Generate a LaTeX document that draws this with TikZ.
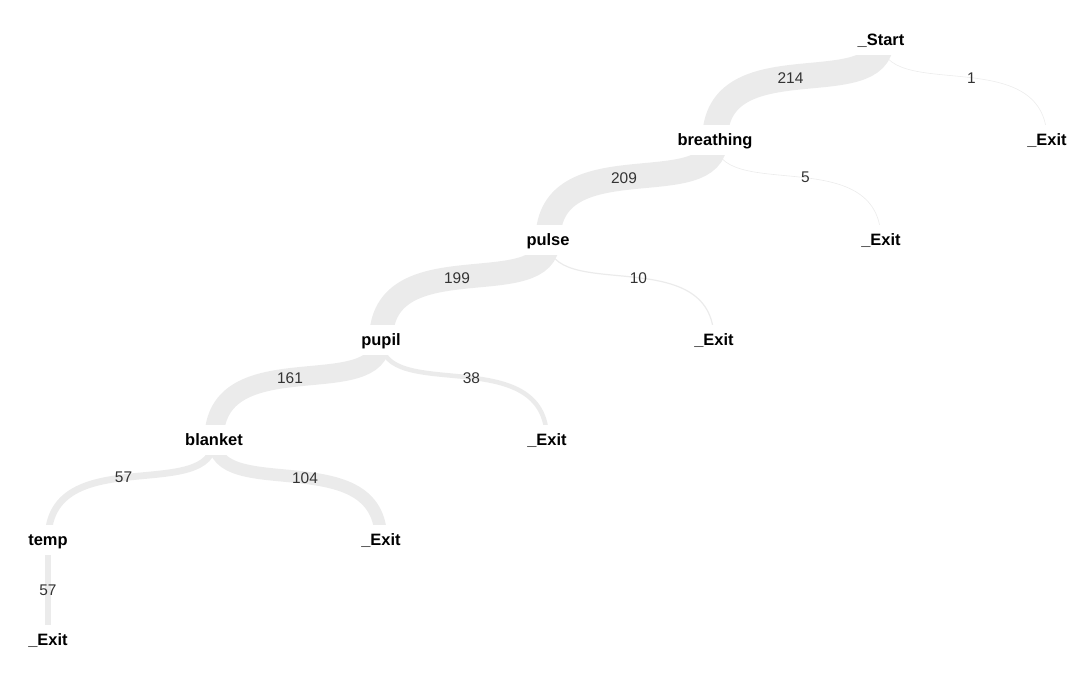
\documentclass[tikz,border=0pt]{standalone}
\usepackage{fontspec}
\setmainfont{Liberation Sans}
\usetikzlibrary{backgrounds}
\definecolor{band}{RGB}{235,235,235}

\begin{document}
\begin{tikzpicture}[x=0.025cm, y=-0.025cm,
  state/.style = {fill=white, inner xsep=1pt, inner ysep=0pt, minimum height=21pt,
    text height=10pt, text depth=2.2pt, font=\fontsize{11.7}{14}\selectfont\bfseries},
  flow/.style = {draw=band, line cap=butt, line width={max(#1*0.085pt,0.4pt)},
    out=-90, in=90, out distance=1.625cm, in distance=2.5cm},
  count/.style = {pos=0.53, text=black!80, font=\fontsize{11}{13}\selectfont}]
\useasboundingbox (0,0) rectangle (1080,689);
\node[state] (start) at (881,40) {\_Start};
\node[state] (breathing) at (715,140) {breathing};
\node[state] (exit1) at (1047,140) {\_Exit};
\node[state] (pulse) at (548,240) {pulse};
\node[state] (exit2) at (881,240) {\_Exit};
\node[state] (pupil) at (381,340) {pupil};
\node[state] (exit3) at (714,340) {\_Exit};
\node[state] (blanket) at (214,440) {blanket};
\node[state] (exit4) at (547,440) {\_Exit};
\node[state] (temp) at (48,540) {temp};
\node[state] (exit5) at (381,540) {\_Exit};
\node[state] (exit6) at (48,640) {\_Exit};
\begin{scope}[on background layer]
\draw[flow=1] (start.center) to node[count] {1} (exit1.center);
\draw[flow=214] (start.center) to node[count] {214} (breathing.center);
\draw[flow=5] (breathing.center) to node[count] {5} (exit2.center);
\draw[flow=209] (breathing.center) to node[count] {209} (pulse.center);
\draw[flow=10] (pulse.center) to node[count] {10} (exit3.center);
\draw[flow=199] (pulse.center) to node[count] {199} (pupil.center);
\draw[flow=38] (pupil.center) to node[count] {38} (exit4.center);
\draw[flow=161] (pupil.center) to node[count] {161} (blanket.center);
\draw[flow=104] (blanket.center) to node[count] {104} (exit5.center);
\draw[flow=57] (blanket.center) to node[count] {57} (temp.center);
\draw[flow=57] (temp.center) to node[count, pos=0.74] {57} (exit6.center);
\end{scope}
\end{tikzpicture}
\end{document}
